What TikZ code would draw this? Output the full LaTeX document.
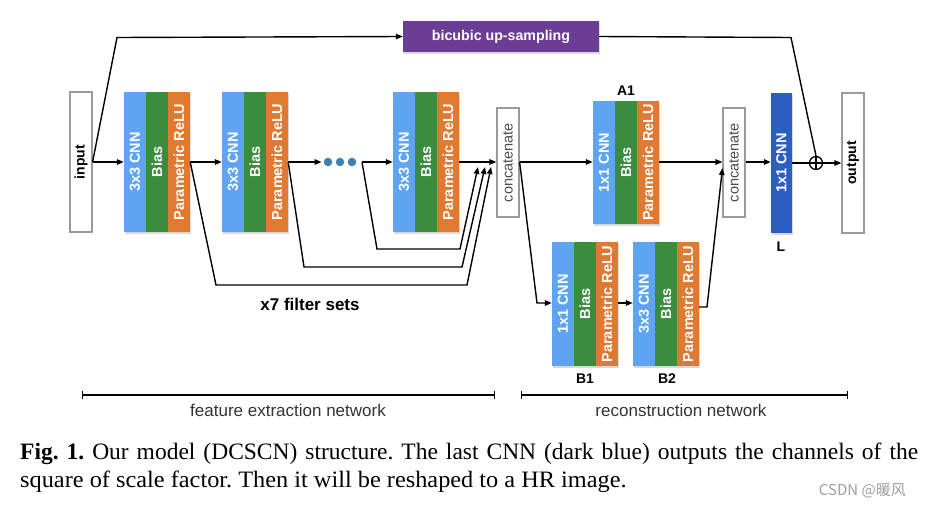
\documentclass[tikz,border=0pt]{standalone}
\usepackage{fontspec}
\setmainfont{Liberation Serif}
\newfontfamily\hel{Liberation Sans}
\newfontfamily\cjk{Noto Sans CJK SC}
\usetikzlibrary{arrows.meta}
\definecolor{cnnblue}{HTML}{5EA4F2}
\definecolor{biasgreen}{HTML}{3A8C3F}
\definecolor{reluorange}{HTML}{E07A32}
\definecolor{upsample}{HTML}{6C3D95}
\definecolor{darkcnn}{HTML}{2A5EC2}
\definecolor{dotblue}{HTML}{3F7FB5}
\definecolor{boxgray}{HTML}{9A9A9A}
\newcommand{\dcblock}[5]{%
  \fill[black,opacity=0.15] (#2+0.5,#3-#4/2+2) rectangle (#2+66.5,#3+#4/2+2);
  \node[cnnl, minimum height=#4 pt] (#1c) at (#2+11,#3) {\rotatebox{90}{#5}};
  \node[biasl, minimum height=#4 pt] (#1b) at (#2+33,#3) {\rotatebox{90}{Bias}};
  \node[relul, minimum height=#4 pt] (#1r) at (#2+55,#3) {\rotatebox{90}{Parametric ReLU}};
}
\begin{document}
\frenchspacing
\begin{tikzpicture}[x=1pt,y=-1pt,
  layer/.style={minimum width=22pt, inner sep=0pt, text=white, font=\hel\bfseries\fontsize{14.5}{16}\selectfont},
  cnnl/.style={layer, fill=cnnblue},
  biasl/.style={layer, fill=biasgreen},
  relul/.style={layer, fill=reluorange},
  iobox/.style={draw=boxgray, line width=1.2pt, fill=white, minimum width=22pt, minimum height=140pt, inner sep=0pt, font=\hel\bfseries\fontsize{14}{15}\selectfont},
  catbox/.style={draw=boxgray, line width=1.2pt, fill=white, minimum width=22pt, minimum height=109pt, inner sep=0pt, text=black!70, font=\hel\fontsize{14.5}{16}\selectfont},
  conn/.style={line width=1.4pt, draw=black},
  arr/.style={conn, -{Triangle[length=7pt,width=5.5pt]}},
  lbl/.style={font=\hel\bfseries\fontsize{14}{16}\selectfont},
  netlbl/.style={font=\hel\fontsize{17}{19}\selectfont, text=black!80},
  dot/.style={circle, fill=dotblue, minimum size=8.5pt, inner sep=0pt}
]
\useasboundingbox (0,0) rectangle (930,508);

% input / output
\node[iobox] (in) at (81,162) {\rotatebox{90}{input}};
\node[iobox] (out) at (853,163) {\rotatebox{90}{output}};

% bicubic
\fill[black,opacity=0.15] (403.5,23) rectangle (599.5,54);
\node[fill=upsample, minimum width=196pt, minimum height=31pt, inner sep=0pt, text=white,
      font=\hel\bfseries\fontsize{14.2}{16}\selectfont] (up) at (501,36.5) {bicubic up-sampling};

% feature extraction blocks
\dcblock{f1}{124}{162}{140}{3x3 CNN}
\dcblock{f2}{222}{162}{140}{3x3 CNN}
\dcblock{f3}{393}{162}{140}{3x3 CNN}

\node[dot] (d1) at (328,162) {};
\node[dot] (d2) at (340,162) {};
\node[dot] (d3) at (352,162) {};
\coordinate (j3) at (362,162);

% concatenates
\node[catbox] (cat1) at (508,162.5) {\rotatebox{90}{concatenate}};
\node[catbox] (cat2) at (734,162.5) {\rotatebox{90}{concatenate}};

% reconstruction blocks
\dcblock{a1}{593}{162.5}{123}{1x1 CNN}
\dcblock{b1}{552}{304}{124}{1x1 CNN}
\dcblock{b2}{633}{304}{124}{3x3 CNN}

% L
\fill[black,opacity=0.15] (771.5,95) rectangle (792.5,235);
\node[layer, fill=darkcnn, minimum width=21pt, minimum height=140pt] (lc) at (781.5,163) {\rotatebox{90}{1x1 CNN}};

% plus
\node[draw, circle, line width=1.3pt, minimum size=13pt, inner sep=0pt] (plus) at (816,163) {};
\draw[line width=1.2pt] (plus.north) -- (plus.south) (plus.west) -- (plus.east);

% labels
\node[lbl] (la1) at (626,91) {A1};
\node[lbl] (lb1) at (585,379) {B1};
\node[lbl] (lb2) at (667,379) {B2};
\node[lbl] (ll) at (781,247) {L};
\node[font=\hel\bfseries\fontsize{17}{19}\selectfont] (x7) at (310,304) {x7 filter sets};

% connectors
\draw[arr] (in.east) -- (f1c.west);
\draw[arr] (in.east) -- (117,37.5) -- (up.west);
\draw[conn] (up.east) -- (791,37.5) -- (plus.north);
\draw[arr] (f1r.east) -- (f2c.west);
\draw[arr, shorten >=2pt] (f2r.east) -- (d1.west);
\draw[arr] (j3) -- (f3c.west);
\draw[arr] (f1r.east) -- (216,285) -- (467,285) -- (491,167);
\draw[arr] (f2r.east) -- (304,267) -- (462,267) -- (485,167);
\draw[arr] (j3) -- (377,249) -- (460,249) -- (478,167);
\draw[arr] (f3r.east) -- (cat1.west |- f3r.east);
\draw[arr] (cat1.east |- 0,162) -- (a1c.west |- 0,162);
\draw[arr] (cat1.east |- 0,162) -- (537,303) -- (b1c.west |- 0,303);
\draw[arr] (b1r.east |- 0,303) -- (b2c.west |- 0,303);
\draw[arr] (b2r.east |- 0,307) -- (707,307) -- (722.5,168);
\draw[arr] (a1r.east |- 0,162) -- (cat2.west |- 0,162);
\draw[arr] (cat2.east |- 0,162) -- (lc.west |- 0,162);
\draw[conn] (lc.east) -- (plus.west);
\draw[arr] (plus.east) -- (out.west);

% network ranges
\coordinate (fe1) at (82,395);
\coordinate (fe2) at (495,395);
\coordinate (rn1) at (521,395);
\coordinate (rn2) at (848,395);
\draw[line width=1.4pt, {Bar[width=8pt]}-{Bar[width=8pt]}] (fe1) -- (fe2);
\draw[line width=1.4pt, {Bar[width=8pt]}-{Bar[width=8pt]}] (rn1) -- (rn2);
\node[netlbl] (fel) at (288,410) {feature extraction network};
\node[netlbl] (rnl) at (681,410) {reconstruction network};

% caption
\node[anchor=base west, inner sep=0pt, font=\fontsize{23.5}{28}\selectfont] (cap1) at (20,459)
  {\makebox[898pt][s]{\textbf{Fig. 1.} Our model (DCSCN) structure. The last CNN (dark blue) outputs the channels of the}};
\node[anchor=base west, inner sep=0pt, font=\fontsize{23.5}{28}\selectfont] (cap2) at (20,487)
  {\scalebox{1.035}[1]{square of scale factor. Then it will be reshaped to a HR image.}};
\node[anchor=base east, inner sep=0pt, text=black!38, font=\cjk\fontsize{15}{17}\selectfont] (wm) at (906,495) {CSDN @暖风};
\end{tikzpicture}
\end{document}
